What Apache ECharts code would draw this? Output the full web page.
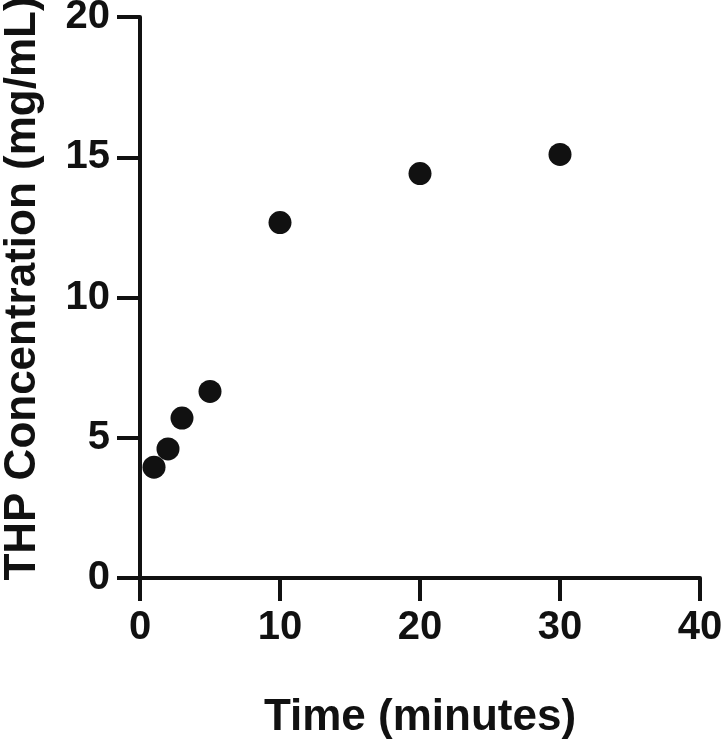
<!DOCTYPE html>
<html>
<head>
<meta charset="utf-8">
<script src="https://cdn.jsdelivr.net/npm/echarts@6/dist/echarts.min.js"></script>
<style>
html,body{margin:0;padding:0;background:#fff;}
#chart{width:722px;height:741px;}
</style>
</head>
<body>
<div id="chart"></div>
<script>
const timeMinutes = [1, 2, 3, 5, 10, 20, 30];
const thpConcentration = [3.95, 4.6, 5.7, 6.65, 12.67, 14.42, 15.1];
const xTicks = [0, 10, 20, 30, 40];
const yTicks = [0, 5, 10, 15, 20];
const xTitle = 'Time (minutes)';
const yTitle = 'THP Concentration (mg/mL)';

const ink = '#111111';
const font = '"Liberation Sans", Arial, Helvetica, sans-serif';
const chart = echarts.init(document.getElementById('chart'), null, {renderer: 'canvas'});
const axisCommon = {
  axisLine: {show: true, lineStyle: {color: ink, width: 4}},
  axisTick: {show: true, inside: false, length: 23, lineStyle: {color: ink, width: 4}},
  splitLine: {show: false},
  axisLabel: {color: ink, fontFamily: font, fontWeight: 'bold', fontSize: 40, margin: 30},
  nameTextStyle: {color: ink, fontFamily: font, fontWeight: 'bold', fontSize: 44}
};
chart.setOption({
  animation: false,
  backgroundColor: '#ffffff',
  grid: {left: 140, right: 22, top: 17, bottom: 163, containLabel: false, outerBoundsMode: 'none'},
  xAxis: Object.assign({}, axisCommon, {
    type: 'value', min: xTicks[0], max: xTicks[xTicks.length - 1], interval: 10,
    name: xTitle, nameLocation: 'middle', nameGap: 118,
    axisLabel: Object.assign({}, axisCommon.axisLabel, {margin: 30})
  }),
  yAxis: Object.assign({}, axisCommon, {
    type: 'value', min: yTicks[0], max: yTicks[yTicks.length - 1], interval: 5,
    name: yTitle, nameLocation: 'middle', nameGap: 95,
    nameTextStyle: Object.assign({}, axisCommon.nameTextStyle, {padding: [0, 0, 0, 18]})
  }),
  series: [{
    type: 'scatter',
    data: timeMinutes.map((t, i) => [t, thpConcentration[i]]),
    symbol: 'circle',
    symbolSize: 23,
    itemStyle: {color: ink, opacity: 1}
  }]
});
</script>
</body>
</html>
